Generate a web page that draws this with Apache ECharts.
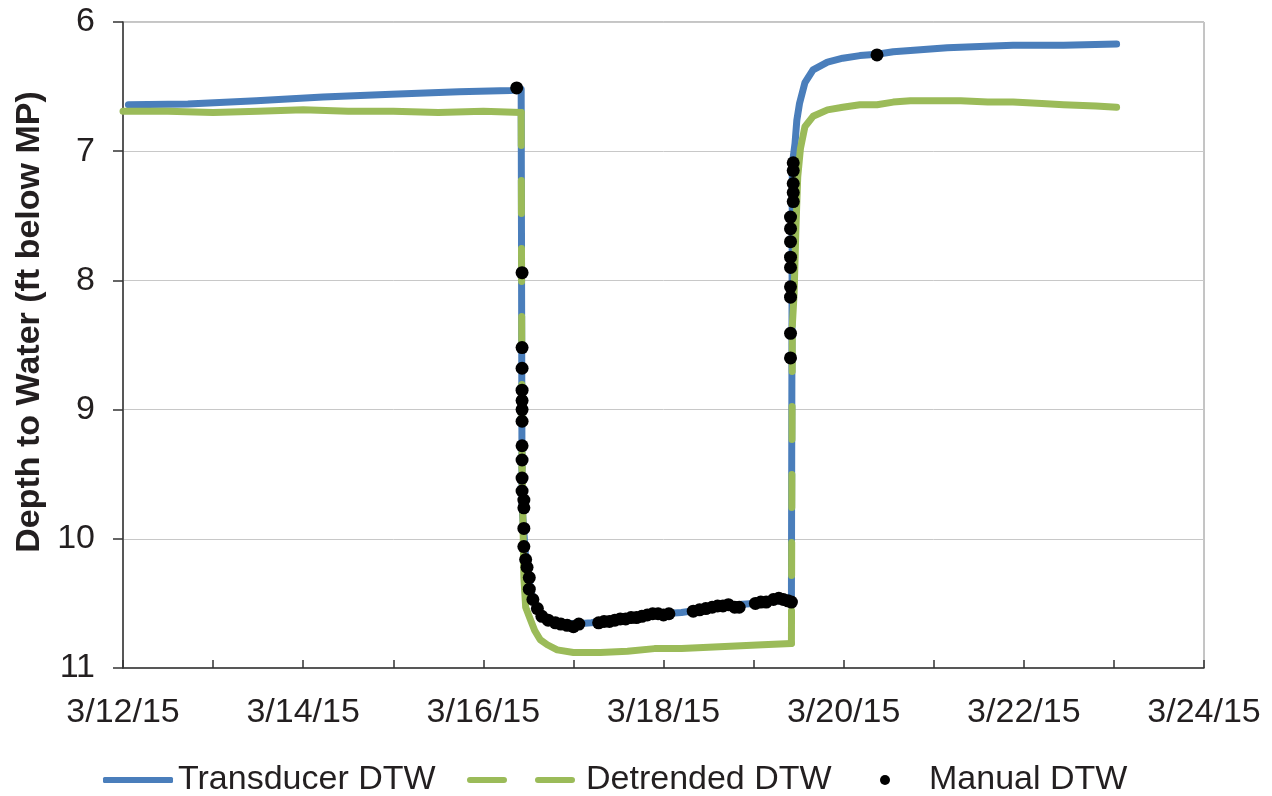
<!DOCTYPE html>
<html>
<head>
<meta charset="utf-8">
<title>Depth to Water</title>
<script src="https://cdn.jsdelivr.net/npm/echarts@6/dist/echarts.min.js"></script>
<style>
  html, body { margin: 0; padding: 0; background: #fff; }
  #chart { width: 1272px; height: 796px; }
</style>
</head>
<body>
<div id="chart"></div>
<script>
// x values are days since 3/12/15 00:00
const xTickLabels = ['3/12/15', '', '3/14/15', '', '3/16/15', '', '3/18/15', '', '3/20/15', '', '3/22/15', '', '3/24/15']

const transducerDays = [
  0.06, 0.72, 1.48, 2.22, 2.98, 3.73, 4.30, 4.42,
  4.43, 4.45, 4.47, 4.49, 4.52, 4.55, 4.60, 4.65, 4.72, 4.80, 4.90, 5.02,
  5.20, 5.40, 5.60, 5.80, 6.00, 6.20, 6.40, 6.60, 6.80, 7.00, 7.20, 7.42,
  7.43, 7.46, 7.48, 7.51, 7.57, 7.66, 7.82, 7.99, 8.18, 8.37, 8.55, 8.74,
  9.15, 9.51, 9.88, 10.44, 11.03
]
const transducerDTW = [
  6.64, 6.635, 6.61, 6.58, 6.56, 6.54, 6.53, 6.52,
  9.75, 9.95, 10.15, 10.27, 10.38, 10.47, 10.54, 10.59, 10.62, 10.64, 10.65, 10.66,
  10.65, 10.63, 10.61, 10.59, 10.58, 10.57, 10.55, 10.53, 10.51, 10.50, 10.48, 10.48,
  7.10, 6.94, 6.76, 6.63, 6.47, 6.37, 6.31, 6.28, 6.26, 6.25, 6.23, 6.22,
  6.20, 6.19, 6.18, 6.18, 6.17
]

const detrendedDays = [
  0.0, 0.5, 1.0, 1.5, 2.0, 2.5, 3.0, 3.5, 4.0, 4.42,
  4.43, 4.45, 4.47, 4.52, 4.57, 4.63, 4.71, 4.82, 5.00, 5.30, 5.60, 5.90,
  6.20, 6.50, 6.80, 7.10, 7.42,
  7.43, 7.45, 7.47, 7.49, 7.52, 7.57, 7.66, 7.82, 7.99, 8.18, 8.37, 8.55,
  8.74, 9.00, 9.30, 9.60, 9.88, 10.20, 10.44, 10.80, 11.03
]
const detrendedDTW = [
  6.69, 6.69, 6.70, 6.69, 6.68, 6.69, 6.69, 6.70, 6.69, 6.70,
  9.45, 10.30, 10.53, 10.62, 10.71, 10.78, 10.82, 10.86, 10.88, 10.88, 10.87, 10.85,
  10.85, 10.84, 10.83, 10.82, 10.81,
  8.35, 8.10, 7.60, 7.20, 6.98, 6.81, 6.73, 6.68, 6.66, 6.64, 6.64, 6.62,
  6.61, 6.61, 6.61, 6.62, 6.62, 6.63, 6.64, 6.65, 6.66
]

const manualDays = [
  4.37,
  4.43, 4.43, 4.43, 4.43, 4.43, 4.43, 4.43, 4.43, 4.43, 4.43, 4.43,
  4.45, 4.45, 4.45, 4.45, 4.47, 4.485, 4.51, 4.51, 4.55, 4.60, 4.65, 4.72,
  4.80, 4.86, 4.93, 5.00, 5.06, 5.28, 5.34, 5.40, 5.46, 5.52, 5.58, 5.64,
  5.70, 5.76, 5.82, 5.88, 5.94, 6.00, 6.06, 6.33, 6.40, 6.47, 6.54, 6.60,
  6.66, 6.72, 6.79, 6.84, 7.02, 7.08, 7.14, 7.22, 7.28, 7.33, 7.38, 7.42,
  7.41, 7.41, 7.41, 7.41, 7.41, 7.41, 7.41, 7.41, 7.41,
  7.44, 7.44, 7.44, 7.44, 7.44,
  8.37
]
const manualDTW = [
  6.51,
  7.94, 8.52, 8.68, 8.85, 8.93, 9.00, 9.09, 9.28, 9.39, 9.53, 9.63,
  9.70, 9.76, 9.92, 10.06, 10.16, 10.22, 10.30, 10.39, 10.47, 10.54, 10.60, 10.63,
  10.65, 10.66, 10.67, 10.68, 10.66, 10.65, 10.64, 10.64, 10.63, 10.62, 10.62, 10.61,
  10.61, 10.60, 10.59, 10.58, 10.58, 10.59, 10.58, 10.56, 10.55, 10.54, 10.53, 10.52,
  10.52, 10.51, 10.53, 10.53, 10.50, 10.49, 10.49, 10.47, 10.46, 10.47, 10.48, 10.49,
  8.60, 8.41, 8.13, 8.05, 7.90, 7.82, 7.70, 7.60, 7.51,
  7.39, 7.32, 7.25, 7.15, 7.09,
  6.255
]

const BLUE = '#4a7ebb'
const GREEN = '#9bbb59'
const TEXT = '#231f20'
const FONT = 'Liberation Sans, Arial, sans-serif'

// Excel draws the long single-step jumps of the detrended line dashed,
// the noisy parts look solid. Split the jumps into their own series.
const detrendedSolid = []
const detrendedJumps = []
detrendedDays.forEach((d, i) => {
  if (i > 0 && Math.abs(detrendedDTW[i] - detrendedDTW[i - 1]) > 1) {
    const prev = [detrendedDays[i - 1], detrendedDTW[i - 1]]
    detrendedSolid.push([(d + prev[0]) / 2, '-'])
    detrendedJumps.push(prev, [d, detrendedDTW[i]], [d, '-'])
  }
  detrendedSolid.push([d, detrendedDTW[i]])
})

const chart = echarts.init(document.getElementById('chart'))

const legendBase = {
  top: 763,
  padding: 0,
  itemStyle: { borderWidth: 0 },
  textStyle: { color: TEXT, fontSize: 34, fontFamily: FONT }
}

const option = {
  animation: false,
  backgroundColor: '#fff',
  textStyle: { fontFamily: FONT },
  grid: {
    left: 123,
    right: 68,
    top: 22,
    bottom: 128,
    show: true,
    borderColor: '#8a8a8a',
    borderWidth: 1
  },
  legend: [
    {
      ...legendBase,
      data: [{ name: 'Transducer DTW', icon: 'roundRect' }],
      left: 103,
      itemWidth: 70,
      itemHeight: 6
    },
    {
      ...legendBase,
      // two long dashes
      data: [{ name: 'Detrended DTW', icon: 'path://M3,0h34a3,3 0 0 1 0,6h-34a3,3 0 0 1 0,-6z M71,0h34a3,3 0 0 1 0,6h-34a3,3 0 0 1 0,-6z' }],
      left: 467,
      itemWidth: 108,
      itemHeight: 6,
      textStyle: { ...legendBase.textStyle, padding: [0, 0, 0, 6] }
    },
    {
      ...legendBase,
      data: [{ name: 'Manual DTW', icon: 'circle' }],
      left: 880,
      itemWidth: 10,
      itemHeight: 10,
      textStyle: { ...legendBase.textStyle, padding: [0, 0, 0, 34] }
    }
  ],
  xAxis: {
    type: 'value',
    min: 0,
    max: 12,
    interval: 1,
    axisLine: { show: true, onZero: false, lineStyle: { color: '#333', width: 1.5 } },
    axisTick: { show: true, inside: true, length: 8, lineStyle: { color: '#333', width: 1.5 } },
    axisLabel: {
      color: TEXT,
      fontSize: 34,
      margin: 28,
      formatter: (v) => xTickLabels[Math.round(v)] || ''
    },
    splitLine: { show: false }
  },
  yAxis: {
    type: 'value',
    inverse: true,
    min: 6,
    max: 11,
    interval: 1,
    name: 'Depth to Water (ft below MP)',
    nameLocation: 'middle',
    nameGap: 75,
    // title sits a little above the middle of the axis
    nameTextStyle: { color: TEXT, fontSize: 34, fontWeight: 'bold', padding: [0, 0, 0, 46] },
    axisLine: { show: true, onZero: false, lineStyle: { color: '#333', width: 1.5 } },
    axisTick: { show: true, length: 10, lineStyle: { color: '#333', width: 1.5 } },
    axisLabel: { color: TEXT, fontSize: 34, margin: 28 },
    splitLine: { show: true, lineStyle: { color: '#c8c8c8', width: 1 } }
  },
  series: [
    {
      name: 'Transducer DTW',
      type: 'line',
      data: transducerDays.map((d, i) => [d, transducerDTW[i]]),
      symbol: 'none',
      lineStyle: { color: BLUE, width: 7, cap: 'round', join: 'round' },
      itemStyle: { color: BLUE },
      z: 2
    },
    {
      name: 'Detrended DTW',
      type: 'line',
      data: detrendedJumps,
      symbol: 'none',
      connectNulls: false,
      lineStyle: { color: GREEN, width: 7, type: [33, 35], cap: 'round' },
      itemStyle: { color: GREEN },
      z: 3
    },
    {
      name: 'Detrended DTW',
      type: 'line',
      data: detrendedSolid,
      symbol: 'none',
      connectNulls: false,
      lineStyle: { color: GREEN, width: 7, cap: 'round', join: 'round' },
      itemStyle: { color: GREEN },
      z: 3
    },
    {
      name: 'Manual DTW',
      type: 'scatter',
      data: manualDays.map((d, i) => [d, manualDTW[i]]),
      symbol: 'circle',
      symbolSize: 13,
      itemStyle: { color: '#000', opacity: 1 },
      z: 4
    }
  ]
}

chart.setOption(option)
</script>
</body>
</html>
